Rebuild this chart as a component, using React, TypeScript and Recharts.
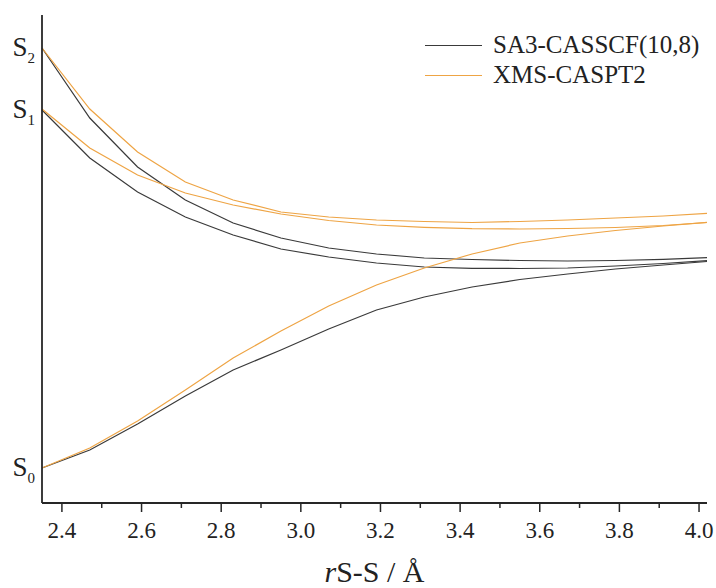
// Potential energy curves along the S–S stretch: SA3-CASSCF(10,8) vs XMS-CASPT2,
// three states each, with the y axis labelled only by the state names.

import { LineChart, Line, XAxis, YAxis } from 'recharts';

const FONT = '"Liberation Serif", "DejaVu Serif", serif';
const AXIS_COLOR = '#262626';
const CAS_COLOR = '#3a3a3a';
const PT2_COLOR = '#eea444';

// r(S-S) in Å
const R_SS = [2.35, 2.47, 2.59, 2.71, 2.83, 2.95, 3.07, 3.19, 3.31, 3.43, 3.55, 3.67, 3.79, 3.91, 4.02];

// relative energies (arbitrary units, S0 at 2.35 Å = 0)
const CAS_S0 = [0, 0.18, 0.44, 0.72, 0.98, 1.18, 1.39, 1.58, 1.71, 1.81, 1.885, 1.94, 1.99, 2.03, 2.065];
const CAS_S1 = [3.58, 3.1, 2.76, 2.51, 2.33, 2.19, 2.11, 2.05, 2.01, 1.997, 1.995, 2.0, 2.02, 2.045, 2.073];
const CAS_S2 = [4.2, 3.5, 3.01, 2.68, 2.45, 2.3, 2.2, 2.14, 2.1, 2.085, 2.075, 2.07, 2.075, 2.087, 2.103];
const PT2_S0 = [0, 0.2, 0.47, 0.78, 1.1, 1.37, 1.62, 1.83, 2.0, 2.14, 2.25, 2.32, 2.375, 2.42, 2.457];
const PT2_S1 = [3.59, 3.2, 2.93, 2.75, 2.63, 2.54, 2.475, 2.43, 2.407, 2.393, 2.39, 2.395, 2.405, 2.425, 2.455];
const PT2_S2 = [4.2, 3.59, 3.16, 2.86, 2.68, 2.56, 2.51, 2.48, 2.465, 2.455, 2.465, 2.48, 2.5, 2.52, 2.547];

const X_TICKS = [2.4, 2.5, 2.6, 2.7, 2.8, 2.9, 3.0, 3.1, 3.2, 3.3, 3.4, 3.5, 3.6, 3.7, 3.8, 3.9, 4.0];
const STATE_TICKS = [0, 3.58, 4.2];
const STATE_NAMES = ['0', '1', '2'];

const LEGEND = [
  { name: 'SA3-CASSCF(10,8)', color: CAS_COLOR },
  { name: 'XMS-CASPT2', color: PT2_COLOR },
];

const data = R_SS.map((r, i) => ({
  r,
  casS0: CAS_S0[i],
  casS1: CAS_S1[i],
  casS2: CAS_S2[i],
  pt2S0: PT2_S0[i],
  pt2S1: PT2_S1[i],
  pt2S2: PT2_S2[i],
}));

const SERIES = [
  { key: 'casS0', color: CAS_COLOR },
  { key: 'casS1', color: CAS_COLOR },
  { key: 'casS2', color: CAS_COLOR },
  { key: 'pt2S0', color: PT2_COLOR },
  { key: 'pt2S1', color: PT2_COLOR },
  { key: 'pt2S2', color: PT2_COLOR },
];

/** Major ticks every 0.2 with labels, unlabelled minor ticks between. */
function DistanceTick({ x, y, payload }: any) {
  const v = payload.value as number;
  const major = Math.round(v * 10) % 2 === 0;
  return (
    <g>
      <line x1={x} x2={x} y1={y} y2={y + (major ? 9 : 5)} stroke={AXIS_COLOR} strokeWidth={1.5} />
      {major && (
        <text x={x} y={y + 35} textAnchor="middle" fontSize={23} fontFamily={FONT} fill="#222">
          {v.toFixed(1)}
        </text>
      )}
    </g>
  );
}

function StateTick({ x, y, index }: any) {
  return (
    <text x={x - 7} y={y + 8} textAnchor="end" fontSize={27} fontFamily={FONT} fill="#222">
      S
      <tspan fontSize={15} dy={7}>
        {STATE_NAMES[index]}
      </tspan>
    </text>
  );
}

function DistanceTitle({ viewBox }: any) {
  const { x, y, width } = viewBox;
  return (
    <text x={x + width / 2} y={y + 79} textAnchor="middle" fontSize={30} fontFamily={FONT} fill="#222">
      <tspan fontStyle="italic">r</tspan>S-S / Å
    </text>
  );
}

export default function App() {
  return (
    <div style={{ position: 'absolute', left: 0, top: 0, width: 716, height: 588, background: '#fff' }}>
      <LineChart width={716} height={588} data={data} margin={{ top: 15, right: 9, bottom: 0, left: 0 }}>
        <XAxis
          dataKey="r"
          type="number"
          domain={[2.35, 4.02]}
          ticks={X_TICKS}
          interval={0}
          height={85}
          tickSize={0}
          tickMargin={0}
          tickLine={false}
          tick={<DistanceTick />}
          axisLine={{ stroke: AXIS_COLOR, strokeWidth: 1.8 }}
          label={<DistanceTitle />}
        />
        <YAxis
          type="number"
          domain={[-0.35, 4.53]}
          ticks={STATE_TICKS}
          interval={0}
          width={42}
          tickSize={0}
          tickMargin={0}
          tickLine={false}
          tick={<StateTick />}
          axisLine={{ stroke: AXIS_COLOR, strokeWidth: 1.8 }}
        />
        {SERIES.map((s) => (
          <Line
            key={s.key}
            dataKey={s.key}
            type="linear"
            stroke={s.color}
            strokeWidth={1.2}
            dot={false}
            activeDot={false}
            isAnimationActive={false}
          />
        ))}
      </LineChart>
      <div
        style={{
          position: 'absolute',
          left: 425,
          top: 30,
          fontFamily: FONT,
          fontSize: 25,
          lineHeight: '30px',
          color: '#222',
        }}
      >
        {LEGEND.map((item) => (
          <div key={item.name} style={{ display: 'flex', alignItems: 'center', whiteSpace: 'nowrap' }}>
            <span style={{ width: 57, height: 0, borderTop: `1.2px solid ${item.color}`, marginRight: 11 }} />
            {item.name}
          </div>
        ))}
      </div>
    </div>
  );
}
